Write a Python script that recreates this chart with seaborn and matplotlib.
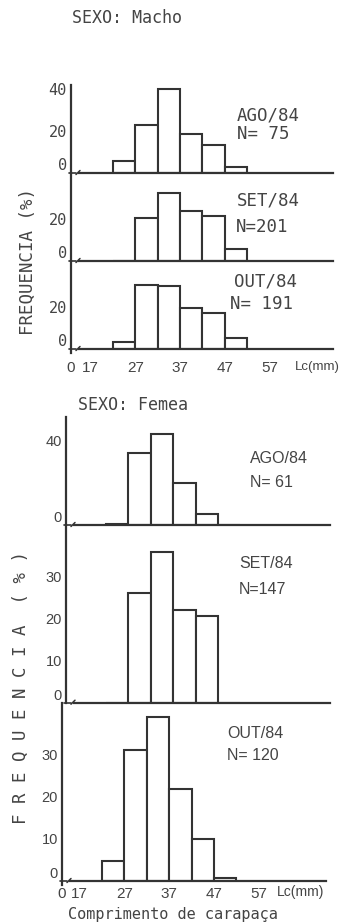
import numpy as np
import matplotlib
matplotlib.use("Agg")
import matplotlib.pyplot as plt
import seaborn as sns

# ---------------- data ----------------
bin_edges = [22, 27, 32, 37, 42, 47, 52]          # Lc classes (mm)
male_ago = [5.7, 22.9, 39.9, 18.6, 13.3, 3.0]
male_set = [0.0, 20.3, 32.2, 24.0, 21.6, 5.7]
male_out = [3.1, 30.3, 29.8, 19.5, 17.1, 5.2]
female_ago = [0.5, 34.1, 43.2, 19.9, 5.2, 0.0]
female_set = [0.0, 26.0, 35.8, 22.1, 20.7, 0.0]
female_out = [4.8, 31.2, 38.9, 21.8, 10.0, 0.6]
months = ["AGO/84", "SET/84", "OUT/84"]
male_n = ["N= 75", "N=201", "N= 191"]
female_n = ["N= 61", "N=147", "N= 120"]
xtick_values = [17, 27, 37, 47, 57]
xtick_labels = ["17", "27", "37", "47", "57"]
male_yticks = [[0, 20, 40], [0, 20], [0, 20]]
female_yticks = [[0, 40], [0, 10, 20, 30], [0, 10, 20, 30]]

# ---------------- style ----------------
sns.set_style("white")
INK = "#333333"
TXT = "#444444"
MONO = ["DejaVu Sans Mono"]
SANS = ["Liberation Sans", "DejaVu Sans"]
plt.rcParams["font.family"] = MONO

W, H = 339, 924
fig = plt.figure(figsize=(W / 100, H / 100), dpi=100)
fig.patch.set_facecolor("white")


def box(x0, y0, x1, y1):
    return [x0 / W, 1 - y1 / H, (x1 - x0) / W, (y1 - y0) / H]


def ftext(x, y, s, **kw):
    fig.text(x / W, 1 - y / H, s, **kw)


mids = [(a + b) / 2 for a, b in zip(bin_edges[:-1], bin_edges[1:])]


def panel(rect_px, xlim, ytop, values, yticks, ytick_font, bottom, ext_below):
    x0, y0, x1, y1 = rect_px
    ax = fig.add_axes(box(x0, y0, x1, y1))
    sns.histplot(x=mids, weights=values, bins=bin_edges, stat="count",
                 color="white", edgecolor=INK, linewidth=1.5, alpha=1,
                 ax=ax)
    ax.set_xlim(*xlim)
    ax.set_ylim(0, ytop)
    ax.set_facecolor("none")
    ax.set_ylabel("")
    ax.set_xlabel("")
    for s in ["top", "right"]:
        ax.spines[s].set_visible(False)
    px_per_unit_y = (y1 - y0) / ytop
    px_per_unit_x = (x1 - x0) / (xlim[1] - xlim[0])
    ax.spines["left"].set_color(INK)
    ax.spines["left"].set_linewidth(1.6)
    ax.spines["left"].set_bounds(-ext_below / px_per_unit_y, ytop)
    ax.spines["bottom"].set_color(INK)
    ax.spines["bottom"].set_linewidth(1.6)
    ax.spines["bottom"].set_bounds(xlim[0] + 8 / px_per_unit_x, xlim[1])
    # small break mark near the vertical axis
    bx = xlim[0] + 3 / px_per_unit_x
    ax.plot([xlim[0] - 2 / px_per_unit_x, bx + 1.5 / px_per_unit_x], [0, 0],
            color=INK, lw=1.2, clip_on=False)
    ax.plot([bx + 2 / px_per_unit_x, bx + 6 / px_per_unit_x],
            [-1.5 / px_per_unit_y, 2.5 / px_per_unit_y],
            color=INK, lw=1.1, clip_on=False)
    ax.set_yticks(yticks)
    ax.set_yticklabels([str(v) for v in yticks], **ytick_font)
    ax.tick_params(axis="y", length=0, pad=3, colors=TXT)
    for lbl in ax.get_yticklabels():
        if lbl.get_text() == "0":
            lbl.set_verticalalignment("bottom")
    if bottom is None:
        ax.set_xticks([])
    else:
        ticks = [xlim[0]] + xtick_values
        ax.set_xticks(ticks)
        ax.set_xticklabels(["0"] + xtick_labels, **bottom["font"])
        ax.tick_params(axis="x", length=0, pad=bottom["pad"], colors=TXT)
    return ax


# ---------------- male ----------------
male_xlim = (12.6, 71.2)
male_rows = [(85, 173), (173, 261), (261, 349)]
male_vals = [male_ago, male_set, male_out]
mono_tick = dict(fontsize=11, family=MONO)
sans_tick = dict(fontsize=11, family=SANS)
for i, (ya, yb) in enumerate(male_rows):
    last = i == 2
    panel((71, ya, 333, yb), male_xlim, 41.9, male_vals[i], male_yticks[i],
          mono_tick,
          dict(font=sans_tick, pad=9) if last else None,
          4 if last else 0)

male_lab = [(237, 116, 237, 134), (237, 201, 236, 227), (234, 281, 230, 304)]
for i, (xa, ya, xb, yb) in enumerate(male_lab):
    ftext(xa, ya, months[i], fontsize=12.5, family=MONO, color=TXT,
          ha="left", va="center")
    ftext(xb, yb, male_n[i], fontsize=12.5, family=MONO, color=TXT,
          ha="left", va="center")

ftext(72, 18, "SEXO: Macho", fontsize=12, family=MONO, color=TXT,
      ha="left", va="center")
ftext(28, 261, "FREQUENCIA (%)", fontsize=12.5, family=MONO, color=TXT,
      rotation=90, ha="center", va="center")
ftext(295, 367, "Lc(mm)", fontsize=9.5, family=SANS, color=TXT,
      ha="left", va="center")

# ---------------- female ----------------
fem_rows = [(417, 525, 66, 330, 51.4), (525, 702.7, 66, 330, 42.3),
            (702.7, 881, 62, 326, 42.4)]
fem_vals = [female_ago, female_set, female_out]
fem_xlim = (13.1, 72.0)
fsans_tick = dict(fontsize=10.5, family=SANS)
for i, (ya, yb, xa, xb, yt) in enumerate(fem_rows):
    last = i == 2
    panel((xa, ya, xb, yb), fem_xlim, yt, fem_vals[i], female_yticks[i],
          fsans_tick,
          dict(font=dict(fontsize=11, family=SANS), pad=4) if last else None,
          4 if last else 0)

fem_lab = [(250, 458, 250, 482), (239, 564, 239, 589), (227, 734, 227, 756)]
for i, (xa, ya, xb, yb) in enumerate(fem_lab):
    ftext(xa, ya, months[i], fontsize=11.5, family=SANS, color=TXT,
          ha="left", va="center")
    ftext(xb, yb, female_n[i], fontsize=11.5, family=SANS, color=TXT,
          ha="left", va="center")

ftext(78, 405, "SEXO: Femea", fontsize=12, family=MONO, color=TXT,
      ha="left", va="center")
ftext(21, 687, "F R E Q U E N C I A  ( % )", fontsize=12.5, family=MONO,
      color=TXT, rotation=90, ha="center", va="center")
ftext(277, 892, "Lc(mm)", fontsize=10, family=SANS, color=TXT,
      ha="left", va="center")
ftext(173, 915, "Comprimento de carapaça", fontsize=11, family=MONO,
      color=TXT, ha="center", va="center")

fig.savefig("out.png", dpi=100, facecolor="white")
